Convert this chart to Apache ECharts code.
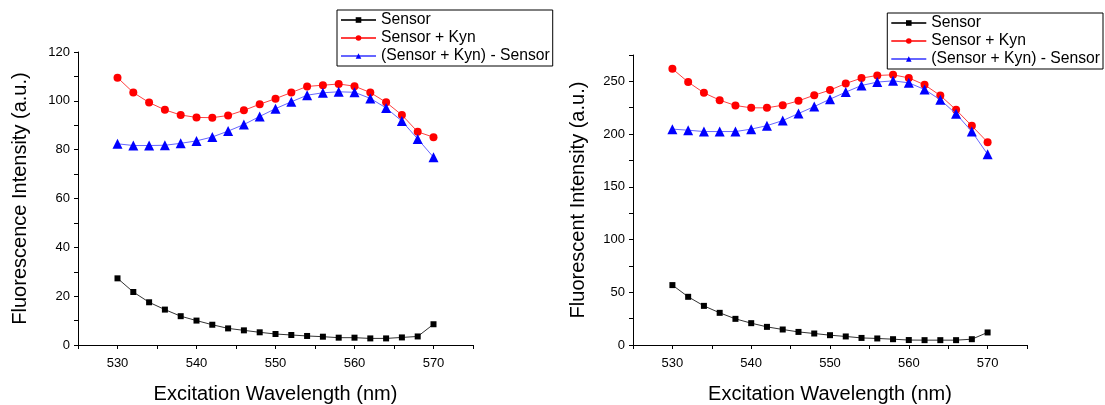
<!DOCTYPE html>
<html>
<head>
<meta charset="utf-8">
<script src="https://cdn.jsdelivr.net/npm/echarts@6/dist/echarts.min.js"></script>
<style>
  html, body { margin: 0; padding: 0; background: #fff; }
  #chart { width: 1105px; height: 405px; }
</style>
</head>
<body>
<div id="chart"></div>
<script>
// Excitation wavelengths (nm)
const wavelengths = [530, 532, 534, 536, 538, 540, 542, 544, 546, 548, 550,
                     552, 554, 556, 558, 560, 562, 564, 566, 568, 570];

// Left panel: fluorescence intensity (a.u.)
const sensorA = [27.3, 21.7, 17.5, 14.5, 11.8, 10.0, 8.3, 6.8, 6.0, 5.2, 4.5,
                 4.1, 3.7, 3.4, 3.0, 3.0, 2.7, 2.7, 3.1, 3.5, 8.5];
const kynA    = [109.5, 103.4, 99.3, 96.3, 94.2, 93.2, 93.1, 94.0, 96.1, 98.6, 100.9,
                 103.4, 105.9, 106.4, 106.9, 106.0, 103.4, 99.4, 94.2, 87.3, 85.1];
const diffA   = [82.4, 81.7, 81.7, 81.8, 82.6, 83.6, 85.2, 87.6, 90.3, 93.6, 96.8,
                 99.6, 102.3, 103.3, 103.7, 103.5, 101.0, 97.1, 91.7, 84.4, 76.9];

// Right panel: fluorescent intensity (a.u.)
const sensorB = [56.8, 45.7, 37.1, 30.5, 24.8, 20.7, 17.2, 14.7, 12.4, 10.9, 9.3,
                 8.1, 6.7, 6.2, 5.5, 4.7, 4.6, 4.6, 4.6, 5.5, 11.9];
const kynB    = [261.9, 249.3, 239.1, 232.2, 227.1, 224.9, 224.9, 227.4, 231.5, 236.9, 241.7,
                 248.0, 253.1, 255.6, 256.2, 253.3, 246.7, 236.6, 223.0, 207.8, 192.3];
const diffB   = [204.7, 203.7, 202.4, 202.4, 202.4, 204.7, 208.0, 212.8, 219.5, 226.1, 233.1,
                 239.8, 246.1, 249.3, 250.5, 248.6, 242.3, 232.5, 219.2, 202.4, 180.9];

const seriesNames = ['Sensor', 'Sensor + Kyn', '(Sensor + Kyn) - Sensor'];
const xAxisTitle = 'Excitation Wavelength (nm)';
const yAxisTitles = ['Fluorescence Intensity (a.u.)', 'Fluorescent Intensity (a.u.)'];

const FONT = 'Arial, "Liberation Sans", sans-serif';

const pair = (ys) => wavelengths.map((x, i) => [x, ys[i]]);

const styles = [
  { symbol: 'rect', size: 6, mark: '#000000', line: '#333333' },
  { symbol: 'circle', size: 8, mark: '#ff0000', line: '#ff4040' },
  { symbol: 'triangle', size: 10, mark: '#0000ff', line: '#6666ff' }
];

function makeSeries(values, idx) {
  return values.map((ys, k) => ({
    name: seriesNames[k],
    type: 'line',
    xAxisIndex: idx,
    yAxisIndex: idx,
    data: pair(ys),
    symbol: styles[k].symbol,
    symbolSize: styles[k].size,
    showAllSymbol: true,
    itemStyle: { color: styles[k].mark },
    lineStyle: { color: styles[k].line, width: 1 },
    emphasis: { disabled: true },
    z: 3 + k
  }));
}

function xAxis(idx) {
  return {
    type: 'value', gridIndex: idx, min: 525, max: 575, interval: 5,
    axisLine: { lineStyle: { color: '#000', width: 1 } },
    axisTick: { length: 4, lineStyle: { color: '#000' } },
    axisLabel: {
      color: '#000', fontFamily: FONT, fontSize: 13, margin: 12,
      formatter: v => (v % 10 === 0 ? String(v) : '')
    },
    splitLine: { show: false },
    name: xAxisTitle, nameLocation: 'middle', nameGap: 39,
    nameTextStyle: { color: '#000', fontFamily: FONT, fontSize: 20 }
  };
}

function yAxis(idx, max, step, labelStep, gap) {
  return {
    type: 'value', gridIndex: idx, min: 0, max: max, interval: step,
    axisLine: { show: true, lineStyle: { color: '#000', width: 1 } },
    axisTick: { show: true, length: 4, lineStyle: { color: '#000' } },
    axisLabel: {
      color: '#000', fontFamily: FONT, fontSize: 13, margin: 8,
      formatter: v => (v % labelStep === 0 ? String(v) : '')
    },
    splitLine: { show: false },
    name: yAxisTitles[idx], nameLocation: 'middle', nameGap: gap,
    nameTextStyle: { color: '#000', fontFamily: FONT, fontSize: 20 }
  };
}

function legend(pos) {
  return Object.assign({
    orient: 'vertical',
    data: seriesNames,
    backgroundColor: '#fff',
    borderColor: '#000', borderWidth: 1, borderRadius: 0,
    padding: [2, 3, 2, 3],
    itemWidth: 35, itemHeight: 7, itemGap: 2,
    textStyle: { color: '#000', fontFamily: FONT, fontSize: 15.7 },
    selectedMode: false
  }, pos);
}

const chart = echarts.init(document.getElementById('chart'), null, { renderer: 'canvas' });
chart.setOption({
  animation: false,
  backgroundColor: '#fff',
  grid: [
    { left: 78, right: 632, top: 52, bottom: 60, containLabel: false, outerBoundsMode: 'none' },
    { left: 633, right: 78, top: 55, bottom: 60, containLabel: false, outerBoundsMode: 'none' }
  ],
  xAxis: [xAxis(0), xAxis(1)],
  yAxis: [yAxis(0, 120, 10, 20, 48), yAxis(1, 275, 25, 50, 45)],
  legend: [legend({ left: 337, top: 10 }), legend({ right: 2, top: 13 })],
  series: makeSeries([sensorA, kynA, diffA], 0).concat(makeSeries([sensorB, kynB, diffB], 1))
});
</script>
</body>
</html>
